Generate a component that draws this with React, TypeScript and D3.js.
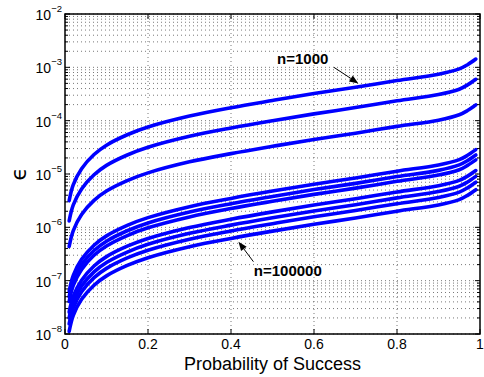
import * as d3 from 'd3'

// probability of success at which each curve was sampled
const probs = [0.01, 0.02, 0.04, 0.07, 0.1, 0.15, 0.2, 0.3, 0.4, 0.5, 0.6, 0.7, 0.8, 0.9, 0.95, 0.97, 0.99]

// epsilon for each n, top (n=1000) to bottom (n=100000)
const eps1 = [3.16e-6, 6.31e-6, 1.26e-5, 2.32e-5, 3.47e-5, 5.44e-5, 7.6e-5, 1.22e-4, 1.75e-4, 2.39e-4, 3.22e-4, 4.22e-4, 5.66e-4, 7.41e-4, 9.33e-4, 1.12e-3, 1.43e-3]
const eps2 = [1.32e-6, 2.63e-6, 5.25e-6, 9.66e-6, 1.45e-5, 2.27e-5, 3.17e-5, 5.09e-5, 7.28e-5, 9.98e-5, 1.34e-4, 1.76e-4, 2.36e-4, 3.09e-4, 3.89e-4, 4.68e-4, 5.97e-4]
const eps3 = [4.37e-7, 8.71e-7, 1.74e-6, 3.2e-6, 4.79e-6, 7.52e-6, 1.05e-5, 1.69e-5, 2.41e-5, 3.3e-5, 4.45e-5, 5.82e-5, 7.82e-5, 1.02e-4, 1.29e-4, 1.55e-4, 1.98e-4]
const eps4 = [6.31e-8, 1.26e-7, 2.51e-7, 4.62e-7, 6.92e-7, 1.09e-6, 1.52e-6, 2.44e-6, 3.48e-6, 4.78e-6, 6.43e-6, 8.41e-6, 1.13e-5, 1.48e-5, 1.86e-5, 2.24e-5, 2.86e-5]
const eps5 = [5.01e-8, 1.0e-7, 2.0e-7, 3.67e-7, 5.5e-7, 8.63e-7, 1.21e-6, 1.94e-6, 2.77e-6, 3.79e-6, 5.11e-6, 6.68e-6, 8.97e-6, 1.17e-5, 1.48e-5, 1.78e-5, 2.27e-5]
const eps6 = [4.07e-8, 8.13e-8, 1.62e-7, 2.99e-7, 4.47e-7, 7.02e-7, 9.8e-7, 1.57e-6, 2.25e-6, 3.08e-6, 4.15e-6, 5.43e-6, 7.29e-6, 9.55e-6, 1.2e-5, 1.45e-5, 1.84e-5]
const eps7 = [2.57e-8, 5.13e-8, 1.02e-7, 1.88e-7, 2.82e-7, 4.43e-7, 6.18e-7, 9.93e-7, 1.42e-6, 1.95e-6, 2.62e-6, 3.43e-6, 4.6e-6, 6.03e-6, 7.59e-6, 9.12e-6, 1.16e-5]
const eps8 = [2.0e-8, 3.98e-8, 7.94e-8, 1.46e-7, 2.19e-7, 3.44e-7, 4.8e-7, 7.71e-7, 1.1e-6, 1.51e-6, 2.03e-6, 2.66e-6, 3.57e-6, 4.68e-6, 5.89e-6, 7.08e-6, 9.04e-6]
const eps9 = [1.55e-8, 3.09e-8, 6.17e-8, 1.14e-7, 1.7e-7, 2.67e-7, 3.72e-7, 5.98e-7, 8.55e-7, 1.17e-6, 1.58e-6, 2.07e-6, 2.77e-6, 3.63e-6, 4.57e-6, 5.5e-6, 7.02e-6]
const eps10 = [1.12e-8, 2.24e-8, 4.47e-8, 8.22e-8, 1.23e-7, 1.93e-7, 2.7e-7, 4.34e-7, 6.19e-7, 8.49e-7, 1.14e-6, 1.5e-6, 2.01e-6, 2.63e-6, 3.31e-6, 3.98e-6, 5.08e-6]
const allSeries = [eps1, eps2, eps3, eps4, eps5, eps6, eps7, eps8, eps9, eps10]

const xTicks = [0, 0.2, 0.4, 0.6, 0.8, 1]
const xTickLabels = ['0', '0.2', '0.4', '0.6', '0.8', '1']
const yExponents = [-8, -7, -6, -5, -4, -3, -2]

// text position, arrow tail, arrow head (data coords)
const notes = [
  { label: 'n=1000', at: [0.511, 1.15e-3], from: [0.648, 1.0e-3], to: [0.707, 5.0e-4] },
  { label: 'n=100000', at: [0.455, 1.23e-7], from: [0.454, 2.27e-7], to: [0.418, 5.37e-7] },
]

const width = 484
const height = 377
const margin = { top: 14, right: 4, bottom: 43, left: 65 }

export default function App() {
  const x = d3.scaleLinear().domain([0, 1]).range([margin.left, width - margin.right])
  const y = d3.scaleLog().domain([1e-8, 1e-2]).range([height - margin.bottom, margin.top])
  const [x0, x1] = x.range()
  const [y0, y1] = y.range()

  const line = d3
    .line<number>()
    .x((_, i) => x(probs[i]))
    .y((d) => y(d))
    .curve(d3.curveCatmullRom.alpha(0.5))

  // every 2..9 x 10^k position on the log axis
  const minorY: number[] = []
  for (let e = -8; e < -2; e++) {
    for (let m = 2; m <= 9; m++) minorY.push(m * Math.pow(10, e))
  }

  const font = 'Liberation Sans, Arial, Helvetica, sans-serif'

  return (
    <div style={{ position: 'absolute', left: 0, top: 0 }}>
      <svg width={width} height={height} style={{ display: 'block', background: '#fff' }}>
        <rect x={0} y={0} width={width} height={height} fill="#fff" />
        {/* grid */}
        <g stroke="#555" strokeWidth={0.8} strokeDasharray="1,3">
          {[...minorY, ...yExponents.map((e) => Math.pow(10, e))].map((v, i) => (
            <line key={'gy' + i} x1={x0} x2={x1} y1={y(v)} y2={y(v)} />
          ))}
          {xTicks.slice(1, -1).map((t) => (
            <line key={'gx' + t} x1={x(t)} x2={x(t)} y1={y0} y2={y1} />
          ))}
        </g>

        {/* curves */}
        <g fill="none" stroke="#0000ff" strokeWidth={3.6} strokeLinecap="round" strokeLinejoin="round">
          {allSeries.map((s, i) => (
            <path key={i} d={line(s) ?? ''} />
          ))}
        </g>

        {/* axes box and ticks */}
        <rect x={x0} y={y1} width={x1 - x0} height={y0 - y1} fill="none" stroke="#000" strokeWidth={1.5} />
        <g stroke="#000" strokeWidth={1}>
          {xTicks.map((t) => (
            <g key={'xt' + t}>
              <line x1={x(t)} x2={x(t)} y1={y0} y2={y0 - 5} />
              <line x1={x(t)} x2={x(t)} y1={y1} y2={y1 + 5} />
            </g>
          ))}
          {yExponents.map((e) => (
            <g key={'yt' + e}>
              <line x1={x0} x2={x0 + 5} y1={y(Math.pow(10, e))} y2={y(Math.pow(10, e))} />
              <line x1={x1} x2={x1 - 5} y1={y(Math.pow(10, e))} y2={y(Math.pow(10, e))} />
            </g>
          ))}
          {minorY.map((v, i) => (
            <g key={'ym' + i}>
              <line x1={x0} x2={x0 + 3} y1={y(v)} y2={y(v)} />
              <line x1={x1} x2={x1 - 3} y1={y(v)} y2={y(v)} />
            </g>
          ))}
        </g>

        {/* tick labels */}
        <g fontFamily={font} fill="#000">
          {xTicks.map((t, i) => (
            <text key={'xl' + t} x={x(t)} y={y0 + 15} fontSize={14} textAnchor="middle">
              {xTickLabels[i]}
            </text>
          ))}
          {yExponents.map((e) => (
            <text key={'yl' + e} x={x0 - 3} y={y(Math.pow(10, e)) + 6} fontSize={14} textAnchor="end">
              10
              <tspan dy={-8} fontSize={9.5}>
                {'\u2212' + Math.abs(e)}
              </tspan>
            </text>
          ))}
        </g>

        {/* axis titles */}
        <text x={(x0 + x1) / 2} y={y0 + 36} fontFamily={font} fontSize={18} textAnchor="middle">
          Probability of Success
        </text>
        <text
          transform={`translate(26,${(y0 + y1) / 2}) rotate(-90)`}
          fontFamily="DejaVu Sans, sans-serif"
          fontSize={22}
          textAnchor="middle"
        >
          {'\u03f5'}
        </text>

        {/* annotations */}
        {notes.map((n) => {
          const ax = x(n.from[0])
          const ay = y(n.from[1])
          const bx = x(n.to[0])
          const by = y(n.to[1])
          const ang = Math.atan2(by - ay, bx - ax)
          const hl = 9
          const hw = 3.5
          const px = bx - hl * Math.cos(ang)
          const py = by - hl * Math.sin(ang)
          const head = [
            [bx, by],
            [px + hw * Math.sin(ang), py - hw * Math.cos(ang)],
            [px - hw * Math.sin(ang), py + hw * Math.cos(ang)],
          ]
          return (
            <g key={n.label}>
              <text x={x(n.at[0])} y={y(n.at[1])} fontFamily={font} fontWeight="bold" fontSize={15}>
                {n.label}
              </text>
              <line x1={ax} y1={ay} x2={px} y2={py} stroke="#000" strokeWidth={1} />
              <polygon points={head.map((p) => p.join(',')).join(' ')} fill="#000" />
            </g>
          )
        })}
      </svg>
    </div>
  )
}
